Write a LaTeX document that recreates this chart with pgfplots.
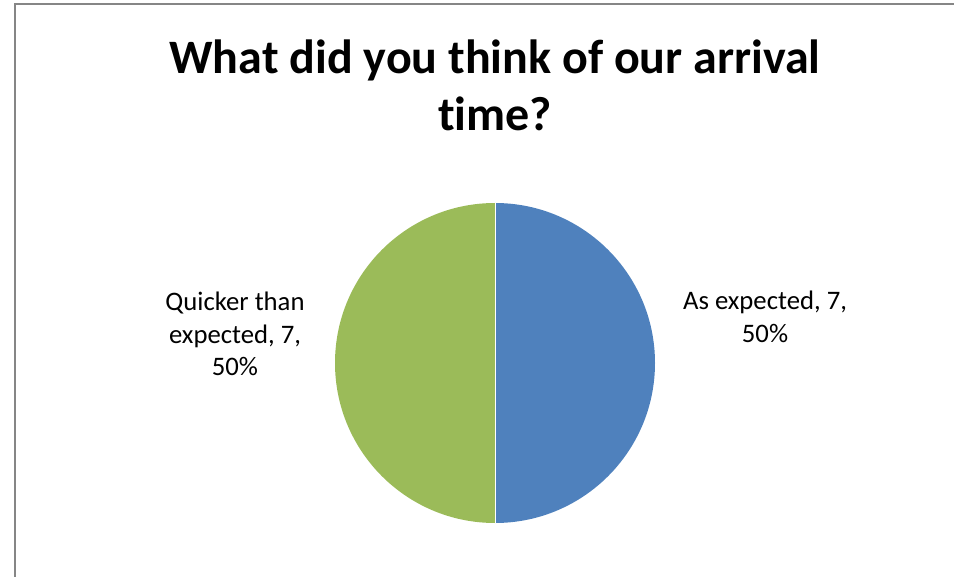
\documentclass[border=0pt]{standalone}
\usepackage{pgfplots}
\pgfplotsset{compat=1.18}
\usepackage{pgfplotstable}
\usepackage{fontspec}
\setmainfont{Carlito}[Ligatures={NoCommon}]
\definecolor{blueC}{RGB}{79,129,189}
\definecolor{greenC}{RGB}{155,187,89}
\definecolor{frameC}{RGB}{134,134,134}
\pgfplotstableread{
value
7
7
}\piedata
\begin{document}
\begin{tikzpicture}
\pgfplotstablegetelem{0}{value}\of\piedata \let\va\pgfplotsretval
\pgfplotstablegetelem{1}{value}\of\piedata \let\vb\pgfplotsretval
\pgfmathsetmacro\total{\va+\vb}
\pgfmathsetmacro\angA{360*\va/\total}
\pgfmathsetmacro\angB{360*\vb/\total}
\pgfmathsetmacro\startB{90-\angA}
\useasboundingbox (0,0) rectangle (954pt,577pt);
\begin{axis}[at={(0,0)}, anchor=south west, scale only axis,
  width=954pt, height=577pt, xmin=0, xmax=954, ymin=0, ymax=577,
  y dir=reverse, hide axis, clip=false]
\fill[blueC] (axis cs:495,363) -- ++(90:160pt) arc[start angle=90, delta angle=-\angA, radius=160pt] -- cycle;
\fill[greenC] (axis cs:495,363) -- ++(\startB:160pt) arc[start angle=\startB, delta angle=-\angB, radius=160pt] -- cycle;
\draw[white, line width=0.8pt] (axis cs:495,363) -- ++(90:160pt);
\draw[white, line width=0.8pt] (axis cs:495,363) -- ++(\startB:160pt);
\draw[frameC, line width=2pt] (axis cs:14.5,577) -- (axis cs:14.5,4.5) -- (axis cs:954,4.5);
\node[align=center, font=\fontsize{48}{57}\selectfont\bfseries] at (axis cs:495,85) {What did you think of our arrival\\time?};
\node[align=center, font=\fontsize{26.7}{32.5}\selectfont] at (axis cs:235,334) {Quicker than\\expected, 7,\\50\%};
\node[align=center, font=\fontsize{26.7}{32.5}\selectfont] at (axis cs:765,317) {As expected, 7,\\50\%};
\end{axis}
\end{tikzpicture}
\end{document}
